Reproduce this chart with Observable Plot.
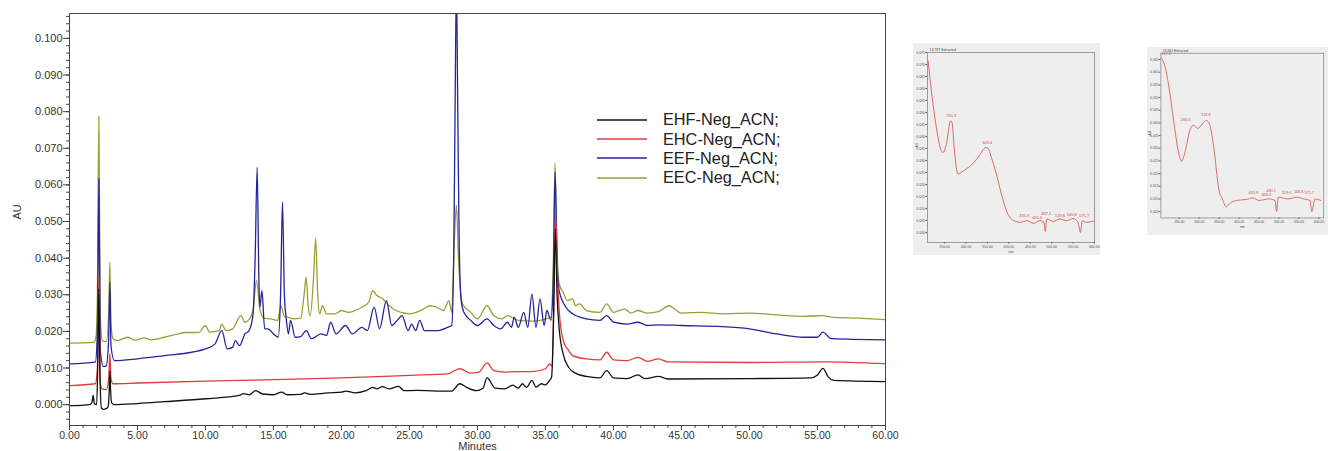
<!DOCTYPE html>
<html><head><meta charset="utf-8">
<script src="https://cdn.jsdelivr.net/npm/d3@7"></script>
<script src="https://cdn.jsdelivr.net/npm/@observablehq/plot@0.6"></script>
<style>
html,body{margin:0;padding:0;background:#fff}
body{width:1328px;height:451px;overflow:hidden;position:relative;font-family:"Liberation Sans",Arial,sans-serif}
#main{position:absolute;left:0;top:0}
#legend{position:absolute;left:597px;top:110px;font-size:16.3px;color:#222}
#legend .row{height:19.4px;display:flex;align-items:center}
#legend svg{margin-right:16px}
#ins1{position:absolute;left:913px;top:43px}
#ins2{position:absolute;left:1147px;top:47px}
</style></head><body>
<div id="main"></div>
<div id="legend"></div>
<div id="ins1"></div>
<div id="ins2"></div>
<script>
// ---- series names and colours ----
const seriesNames = ["EHF-Neg_ACN;", "EHC-Neg_ACN;", "EEF-Neg_ACN;", "EEC-Neg_ACN;"];
const seriesColors = ["#111111", "#e23b3b", "#24249f", "#9d9d33"];

// ---- chromatogram traces: [minutes, AU] ----
const ehf = [[0,-0.0003],[1.5,0.0],[1.65,0.0005],[1.74,0.0025],[1.83,0.0002],[2.0,0.0],[2.08,0.012],[2.16,0.0317],[2.24,0.008],[2.35,-0.001],[2.5,-0.0013],[2.7,-0.0011],[2.85,-0.0005],[2.92,0.004],[2.97,0.0093],[3.02,0.004],[3.1,0.0005],[3.3,0.0],[5,0.0003],[7,0.0008],[10,0.0016],[12.5,0.0025],[12.8,0.003],[13.2,0.0027],[13.7,0.0038],[14.2,0.0029],[15,0.0027],[15.6,0.0034],[16,0.0027],[17,0.0028],[17.3,0.0032],[17.7,0.0028],[19,0.0032],[20,0.0034],[20.3,0.0037],[21,0.0032],[21.8,0.0038],[22.3,0.0047],[22.6,0.0043],[23.0,0.0049],[23.5,0.0043],[24.2,0.005],[24.6,0.0038],[25.5,0.0039],[27,0.0037],[28.1,0.0037],[28.7,0.0057],[29.2,0.0047],[29.9,0.0038],[30.4,0.0045],[30.7,0.0073],[31.3,0.0045],[32,0.0043],[32.6,0.0053],[33,0.0045],[33.3,0.0057],[33.6,0.0047],[34.0,0.0066],[34.3,0.0048],[34.7,0.0057],[35.0,0.0054],[35.3,0.0066],[35.45,0.0075],[35.6,0.025],[35.72,0.048],[35.85,0.03],[36.0,0.021],[36.3,0.0138],[36.7,0.0102],[37.2,0.0086],[38,0.0077],[39,0.0073],[39.5,0.0093],[40,0.0073],[41,0.0071],[41.8,0.0081],[42.3,0.0071],[43.3,0.0077],[44,0.007],[50,0.0071],[54.5,0.0073],[55.0,0.0081],[55.4,0.0099],[55.8,0.0075],[56.2,0.0066],[60,0.0063]];
const ehc = [[0,0.0052],[1.9,0.0057],[2.05,0.01],[2.16,0.0348],[2.26,0.006],[2.4,0.0043],[2.7,0.0041],[2.88,0.007],[2.97,0.0139],[3.05,0.007],[3.2,0.0057],[5,0.0059],[10,0.0064],[15,0.0068],[20,0.0073],[25,0.008],[27.8,0.0084],[28.7,0.0098],[29.5,0.0086],[30.1,0.0089],[30.7,0.0114],[31.2,0.0093],[32,0.0089],[33,0.009],[34,0.009],[35.0,0.0098],[35.3,0.0111],[35.5,0.0105],[35.62,0.03],[35.75,0.052],[35.88,0.035],[36.0,0.026],[36.3,0.0175],[36.7,0.0148],[37,0.0134],[38,0.0125],[39,0.0122],[39.5,0.0143],[40,0.0122],[41,0.012],[41.8,0.0129],[42.5,0.0118],[43.3,0.0125],[44,0.0117],[50,0.0115],[55.4,0.0117],[60,0.0112]];
const eef = [[0,0.0111],[1.9,0.0116],[2.05,0.02],[2.16,0.0617],[2.26,0.015],[2.5,0.0104],[2.7,0.0106],[2.88,0.018],[2.97,0.0334],[3.05,0.016],[3.3,0.012],[5,0.0125],[7,0.0134],[9,0.0143],[10,0.0152],[10.7,0.0166],[11.2,0.0202],[11.6,0.0152],[12.0,0.0157],[12.2,0.0175],[12.5,0.0161],[12.9,0.0193],[13.2,0.0202],[13.5,0.0248],[13.65,0.04],[13.8,0.0648],[13.92,0.035],[14.0,0.0266],[14.15,0.0311],[14.35,0.0207],[14.6,0.0207],[15.0,0.0193],[15.35,0.0184],[15.52,0.03],[15.66,0.0553],[15.8,0.03],[15.95,0.023],[16.1,0.0193],[16.25,0.023],[16.6,0.0184],[17.0,0.0186],[17.4,0.0202],[17.8,0.018],[18.5,0.0193],[18.9,0.0189],[19.2,0.0225],[19.6,0.0193],[20.3,0.0216],[20.8,0.0193],[21.5,0.0211],[21.9,0.0202],[22.4,0.0266],[22.8,0.0207],[23.3,0.0284],[23.7,0.0216],[24.1,0.023],[24.45,0.0243],[24.9,0.0202],[25.15,0.022],[25.45,0.0202],[25.75,0.023],[26.1,0.0202],[27,0.0202],[27.8,0.0211],[28.1,0.0216],[28.25,0.04],[28.35,0.08],[28.45,0.115],[28.55,0.08],[28.65,0.045],[28.8,0.0284],[29.0,0.0252],[29.5,0.023],[30.0,0.0216],[30.7,0.0234],[31.2,0.0216],[31.7,0.0207],[32.2,0.0225],[32.5,0.0211],[32.7,0.0239],[33.0,0.0211],[33.4,0.0252],[33.7,0.0211],[34.0,0.0302],[34.3,0.0211],[34.6,0.0289],[34.9,0.0216],[35.1,0.0257],[35.4,0.023],[35.58,0.035],[35.7,0.0635],[35.85,0.04],[36.0,0.0311],[36.5,0.0266],[37,0.0248],[38,0.0234],[39,0.023],[39.5,0.0243],[40,0.0225],[41,0.022],[41.8,0.0225],[42.5,0.0216],[43.3,0.0218],[45,0.0216],[48,0.0213],[50,0.0207],[52,0.0193],[54,0.0184],[55.0,0.0184],[55.4,0.0198],[56,0.018],[60,0.0177]];
const eec = [[0,0.0168],[1.8,0.017],[1.95,0.0185],[2.05,0.03],[2.16,0.0787],[2.26,0.025],[2.4,0.0175],[2.7,0.0172],[2.88,0.025],[2.97,0.0389],[3.05,0.022],[3.2,0.018],[3.5,0.0175],[4.3,0.0184],[4.8,0.0176],[5.5,0.0182],[6,0.0177],[7,0.0184],[8,0.0193],[8.5,0.0197],[9.5,0.0197],[10.0,0.0216],[10.3,0.0198],[11,0.0202],[11.2,0.022],[11.5,0.0202],[12,0.0207],[12.6,0.0243],[12.9,0.0225],[13.2,0.0232],[13.5,0.026],[13.75,0.034],[14.0,0.026],[14.3,0.0236],[14.8,0.0234],[15.3,0.023],[15.55,0.027],[15.8,0.024],[16,0.0239],[16.5,0.0234],[17.0,0.0236],[17.25,0.03],[17.4,0.0348],[17.55,0.027],[17.7,0.0243],[17.95,0.035],[18.1,0.0454],[18.25,0.03],[18.4,0.0248],[18.6,0.027],[18.9,0.0248],[19.5,0.0248],[20,0.0257],[20.5,0.0252],[21,0.0257],[21.5,0.0266],[22,0.028],[22.3,0.0311],[22.6,0.0298],[23.0,0.029],[23.5,0.027],[24,0.0257],[25,0.0248],[25.5,0.0252],[26,0.026],[26.5,0.027],[27,0.0266],[27.5,0.0257],[27.9,0.0284],[28.1,0.0252],[28.3,0.045],[28.45,0.0545],[28.6,0.04],[28.9,0.0275],[29.5,0.0252],[30,0.0234],[30.7,0.027],[31.2,0.0243],[31.8,0.0234],[32.2,0.0243],[33,0.023],[34,0.0228],[35.4,0.0239],[35.58,0.04],[35.7,0.066],[35.85,0.042],[36,0.033],[36.3,0.0307],[36.6,0.0284],[37,0.0289],[37.2,0.027],[37.5,0.0275],[38,0.0257],[39,0.0252],[39.5,0.0275],[40,0.0252],[40.8,0.0261],[41.3,0.025],[41.8,0.0257],[42.5,0.025],[43.3,0.0254],[44.1,0.027],[44.5,0.0261],[45,0.025],[46.5,0.0252],[48,0.0248],[50,0.025],[52,0.0245],[54,0.0241],[55.4,0.0243],[56,0.0239],[58,0.0236],[60,0.0232]];

// ---- axis ticks ----
const xMajor = [0,5,10,15,20,25,30,35,40,45,50,55,60];
const xMinor = d3.range(0, 61, 1);
const yMajor = [0,0.01,0.02,0.03,0.04,0.05,0.06,0.07,0.08,0.09,0.10];
const yMinor = d3.range(-0.004, 0.1065, 0.002);

// ---- inset spectra: [nm, AU] ----
const spec1 = [[211.5,0.0715],[219,0.059],[230.8,0.0437],[238.5,0.0361],[246,0.0333],[254,0.0368],[264,0.0465],[267,0.046],[273,0.034],[281,0.0243],[288.5,0.025],[300,0.0264],[315,0.0285],[331,0.032],[346,0.0354],[351,0.0351],[361.5,0.0299],[373,0.0229],[384.6,0.0146],[396,0.0083],[411.5,0.0049],[427,0.0042],[442,0.0049],[457.7,0.0038],[473,0.0049],[482,0.0042],[485,0.0004],[488.5,0.0056],[504,0.0046],[519,0.0056],[534.6,0.0049],[550,0.0058],[561.5,0.0042],[567,0.0],[571.5,0.0049],[580.8,0.0042],[600,0.0049]];
const spec1Labels = [[265.3,0.048,"265.3"],[349.4,0.0365,"349.4"],[435.9,0.006,"435.9"],[465.6,0.0052,"465.6"],[487.5,0.0068,"487.5"],[519.6,0.0062,"519.6"],[546.8,0.0066,"546.8"],[575.7,0.0062,"575.7"]];
const spec2 = [[206,0.0656],[214,0.0624],[226,0.0523],[238,0.0385],[250,0.0271],[256,0.0248],[266,0.0296],[278,0.0378],[286,0.0391],[296,0.0378],[310,0.040],[318,0.041],[326,0.0395],[336,0.0309],[350,0.0132],[358,0.010],[368,0.0069],[378,0.0084],[394,0.0094],[418,0.0098],[434,0.0104],[450,0.0094],[474,0.010],[490,0.0094],[494,0.005],[498,0.0107],[522,0.010],[546,0.0107],[562,0.010],[578,0.0094],[582,0.005],[590,0.010],[605,0.0094]];
const spec2Labels = [[217.3,0.0665,"217.3"],[266.0,0.0405,"266.0"],[316.8,0.0425,"316.8"],[435.9,0.0115,"435.9"],[468.0,0.011,"468.0"],[480.1,0.0125,"480.1"],[519.4,0.0115,"519.4"],[548.8,0.012,"548.8"],[575.7,0.0115,"575.7"]];
const nmTicks = [250,300,350,400,450,500,550,600];
const spec1YTicks = d3.range(0, 0.0751, 0.005);
const spec2YTicks = d3.range(0.005, 0.0651, 0.005);

const font = "Liberation Sans, Arial, sans-serif";
const traces = [ehf, ehc, eef, eec];
const drawOrder = [3, 2, 1, 0];

const main = Plot.plot({
  width: 900, height: 451,
  marginLeft: 69, marginRight: 15, marginTop: 13, marginBottom: 26,
  x: {domain: [0, 60]},
  y: {domain: [-0.0057, 0.1068]},
  style: {fontFamily: font, fontSize: "11px", color: "#333", background: "white", overflow: "visible"},
  marks: [
    ...drawOrder.map(i => Plot.line(traces[i], {x: d => d[0], y: d => d[1], stroke: seriesColors[i], strokeWidth: 1.3, curve: "monotone-x", clip: true})),
    Plot.frame({stroke: "#444", strokeWidth: 1}),
    Plot.axisX({ticks: xMinor, tickSize: 3, tickFormat: () => "", label: null, stroke: "#444"}),
    Plot.axisX({ticks: xMajor, tickSize: 5, tickPadding: 1, tickFormat: d => d.toFixed(2), label: null, stroke: "#444", fill: "#333", fontSize: 10.5}),
    Plot.axisY({ticks: yMinor, tickSize: 3, tickFormat: () => "", label: null, stroke: "#444"}),
    Plot.axisY({ticks: yMajor, tickSize: 6, tickPadding: 1, tickFormat: d => d.toFixed(3), label: null, stroke: "#444", fill: "#333"}),
    Plot.text(["AU"], {frameAnchor: "left", dx: -52, rotate: -90, fontSize: 11, fill: "#333"}),
    Plot.text(["Minutes"], {frameAnchor: "bottom", dy: 24.5, fontSize: 11, fill: "#333"})
  ]
});
document.getElementById("main").appendChild(main);

// legend
const lg = document.getElementById("legend");
seriesNames.forEach((n, i) => {
  const r = document.createElement("div"); r.className = "row";
  r.innerHTML = `<svg width="50" height="4"><line x1="0" x2="50" y1="2" y2="2" stroke="${seriesColors[i]}" stroke-width="1.6"/></svg>`;
  const t = document.createElement("span"); t.textContent = n;
  r.appendChild(t); lg.appendChild(r);
});

function inset(spec, labels, title, xDom, yDom, yTicks, w, h, m) {
  return Plot.plot({
    width: w, height: h,
    marginLeft: m[0], marginTop: m[1], marginRight: m[2], marginBottom: m[3],
    x: {domain: xDom}, y: {domain: yDom},
    style: {fontFamily: font, fontSize: "3.5px", color: "#555", background: "#eeeeee", overflow: "visible"},
    marks: [
      Plot.frame({stroke: "#888", strokeWidth: 0.8}),
      Plot.line(spec, {x: d => d[0], y: d => d[1], stroke: "#d94848", strokeWidth: 0.8, curve: "monotone-x", clip: true}),
      Plot.text(labels, {x: d => d[0], y: d => d[1], text: d => d[2], fill: "#d94848", fontSize: 4, dy: -2}),
      Plot.axisX({ticks: nmTicks, tickSize: 1.5, tickPadding: 1, tickFormat: d => d.toFixed(2), label: null, fontSize: 3.5}),
      Plot.axisY({ticks: yTicks, tickSize: 1.5, tickPadding: 1, tickFormat: d => d.toFixed(3), label: null, fontSize: 3.5}),
      Plot.text([title], {frameAnchor: "top-left", dy: -4, dx: 2, fontSize: 3.5, textAnchor: "start", fill: "#444"}),
      Plot.text(["nm"], {frameAnchor: "bottom", dy: 10, fontSize: 3.5, fill: "#444"}),
      Plot.text(["AU"], {frameAnchor: "left", dx: -11, rotate: -90, fontSize: 3.5, fill: "#444"})
    ]
  });
}
document.getElementById("ins1").appendChild(inset(spec1, spec1Labels, "13.787 Extracted", [210, 600], [-0.0042, 0.075], spec1YTicks, 187, 212, [14, 9, 6, 13]));
document.getElementById("ins2").appendChild(inset(spec2, spec2Labels, "15.661 Extracted", [204, 612], [0.0025, 0.0675], spec2YTicks, 189, 196, [14, 6, 5, 18]));
</script>
</body></html>
